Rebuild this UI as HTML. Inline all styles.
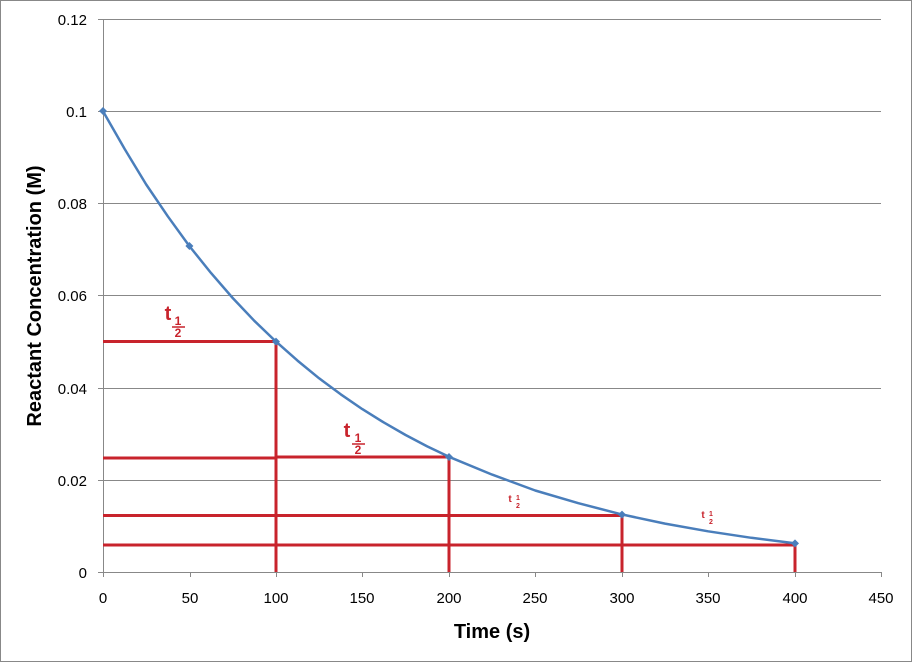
<!DOCTYPE html>
<html><head><style>
body{margin:0;background:#fff}
svg{display:block;font-family:"Liberation Sans",Arial,sans-serif}
</style></head><body>
<svg width="912" height="662" viewBox="0 0 912 662" xmlns="http://www.w3.org/2000/svg">
<rect x="0.5" y="0.5" width="911" height="661" fill="#fff" stroke="#888"/>
<g stroke="#888" stroke-width="1">
<line x1="103" y1="19.5" x2="881" y2="19.5"/>
<line x1="103" y1="111.5" x2="881" y2="111.5"/>
<line x1="103" y1="203.5" x2="881" y2="203.5"/>
<line x1="103" y1="295.5" x2="881" y2="295.5"/>
<line x1="103" y1="388.5" x2="881" y2="388.5"/>
<line x1="103" y1="480.5" x2="881" y2="480.5"/>
<line x1="103.5" y1="19" x2="103.5" y2="572"/>
<line x1="98" y1="572.5" x2="881" y2="572.5"/>
<g>
<line x1="98" y1="19.5" x2="103" y2="19.5"/><line x1="98" y1="111.5" x2="103" y2="111.5"/><line x1="98" y1="203.5" x2="103" y2="203.5"/><line x1="98" y1="295.5" x2="103" y2="295.5"/><line x1="98" y1="388.5" x2="103" y2="388.5"/><line x1="98" y1="480.5" x2="103" y2="480.5"/>
<line x1="103.5" y1="572" x2="103.5" y2="577"/><line x1="190.5" y1="572" x2="190.5" y2="577"/><line x1="276.5" y1="572" x2="276.5" y2="577"/><line x1="362.5" y1="572" x2="362.5" y2="577"/><line x1="449.5" y1="572" x2="449.5" y2="577"/><line x1="535.5" y1="572" x2="535.5" y2="577"/><line x1="622.5" y1="572" x2="622.5" y2="577"/><line x1="708.5" y1="572" x2="708.5" y2="577"/><line x1="795.5" y1="572" x2="795.5" y2="577"/><line x1="881.5" y1="572" x2="881.5" y2="577"/>
</g></g>
<g font-size="15" fill="#000" text-anchor="end">
<text x="87" y="25">0.12</text><text x="87" y="117">0.1</text><text x="87" y="209">0.08</text><text x="87" y="301">0.06</text><text x="87" y="394">0.04</text><text x="87" y="486">0.02</text><text x="87" y="578">0</text>
</g>
<g font-size="15" fill="#000" text-anchor="middle">
<text x="103" y="603">0</text><text x="190" y="603">50</text><text x="276" y="603">100</text><text x="362" y="603">150</text><text x="449" y="603">200</text><text x="535" y="603">250</text><text x="622" y="603">300</text><text x="708" y="603">350</text><text x="795" y="603">400</text><text x="881" y="603">450</text>
</g>
<text x="492" y="638" font-size="20" font-weight="bold" text-anchor="middle">Time (s)</text>
<text transform="translate(41,296) rotate(-90)" font-size="20" font-weight="bold" text-anchor="middle">Reactant Concentration (M)</text>
<g stroke="#c8232c" stroke-width="3" fill="none">
<line x1="103" y1="341.5" x2="277" y2="341.5"/>
<line x1="103" y1="458" x2="276" y2="458"/>
<line x1="276" y1="457" x2="450" y2="457"/>
<line x1="103" y1="515.5" x2="623" y2="515.5"/>
<line x1="103" y1="545" x2="796" y2="545"/>
<line x1="276" y1="341" x2="276" y2="572"/>
<line x1="449" y1="457" x2="449" y2="572"/>
<line x1="622" y1="515" x2="622" y2="572"/>
<line x1="795" y1="544" x2="795" y2="572"/>
</g>
<g fill="#c8232c" font-weight="bold" text-anchor="middle">
<text x="168" y="320" font-size="20">t</text><text x="178" y="325" font-size="12">1</text><line x1="172" y1="327" x2="185" y2="327" stroke="#c8232c" stroke-width="1.5"/><text x="178" y="337" font-size="12">2</text>
<text x="347" y="437" font-size="20">t</text><text x="358" y="442" font-size="12">1</text><line x1="352" y1="444" x2="365" y2="444" stroke="#c8232c" stroke-width="1.5"/><text x="358" y="454" font-size="12">2</text>
<text x="510" y="502" font-size="10">t</text><text x="518" y="500" font-size="7">1</text><text x="518" y="508" font-size="7">2</text>
<text x="703" y="518" font-size="10">t</text><text x="711" y="516" font-size="7">1</text><text x="711" y="524" font-size="7">2</text>
</g>
<polyline fill="none" stroke="#4a7ebb" stroke-width="2.5" stroke-linejoin="round" points="103,111.2 124.6,148.9 146.2,184.5 167.8,216.3 189.4,246.1 211.1,273.1 232.7,298 254.3,320.8 276,341.6 297.5,360.6 319.1,378.3 340.7,394.3 362.3,409.1 384,422.6 405.6,435 427.2,446.4 449,456.8 492.1,474.6 535.2,490.5 578.4,503.2 621.7,514.4 665,523.6 708.1,531.3 751.3,537.8 794.6,543.2"/>
<g fill="#4a7ebb">
<path d="M103,107 l4,4 l-4,4 l-4,-4z"/><path d="M189.4,242 l4,4 l-4,4 l-4,-4z"/><path d="M276,337.6 l4,4 l-4,4 l-4,-4z"/><path d="M449,453 l4,4 l-4,4 l-4,-4z"/><path d="M622,510.6 l4,4 l-4,4 l-4,-4z"/><path d="M795,539.4 l4,4 l-4,4 l-4,-4z"/>
</g>
</svg>
</body></html>
